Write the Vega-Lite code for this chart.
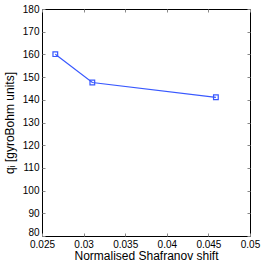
{
  "$schema": "https://vega.github.io/schema/vega-lite/v6.json",
  "autosize": "none",
  "padding": {"left": 42, "top": 9, "right": 13, "bottom": 28},
  "width": 208,
  "height": 227,
  "data": {"values": [
    {"shift": 0.0266, "q": 160.1},
    {"shift": 0.03105, "q": 147.6},
    {"shift": 0.0459, "q": 141.1}
  ]},
  "config": {
    "view": {"stroke": "black", "strokeWidth": 1},
    "font": "Liberation Sans",
    "axis": {
      "grid": false,
      "domain": false,
      "ticks": true,
      "tickColor": "#888888",
      "tickSize": -3,
      "labelFontSize": 10,
      "labelColor": "black",
      "titleFontSize": 12,
      "titleFontWeight": "normal",
      "titleColor": "black"
    }
  },
  "layer": [
    {
      "mark": {"type": "line", "color": "#3858ff", "strokeWidth": 1.2},
      "encoding": {
        "x": {"field": "shift", "type": "quantitative", "scale": {"domain": [0.025, 0.05], "nice": false},
          "axis": {"orient": "bottom", "values": [0.025, 0.03, 0.035, 0.04, 0.045, 0.05], "format": "~g", "labelPadding": 6, "title": "Normalised Shafranov shift", "titlePadding": 1, "labelFlush": false}},
        "y": {"field": "q", "type": "quantitative", "scale": {"domain": [80, 180], "nice": false, "zero": false},
          "axis": {"orient": "left", "values": [80, 90, 100, 110, 120, 130, 140, 150, 160, 170, 180], "labelPadding": 6, "title": "qᵢ [gyroBohm units]", "titlePadding": 6, "labelFlush": false,
            "labelOffset": {"condition": {"test": "datum.value == 80", "value": -4}, "value": 0}}}
      }
    },
    {
      "mark": {"type": "point", "shape": "square", "filled": false, "color": "#3858ff", "size": 22, "strokeWidth": 1.2, "opacity": 1},
      "encoding": {
        "x": {"field": "shift", "type": "quantitative",
          "axis": {"orient": "top", "values": [0.025, 0.03, 0.035, 0.04, 0.045, 0.05], "labels": false, "title": null}},
        "y": {"field": "q", "type": "quantitative",
          "axis": {"orient": "right", "values": [80, 90, 100, 110, 120, 130, 140, 150, 160, 170, 180], "labels": false, "title": null}}
      }
    }
  ],
  "resolve": {"axis": {"x": "independent", "y": "independent"}}
}
